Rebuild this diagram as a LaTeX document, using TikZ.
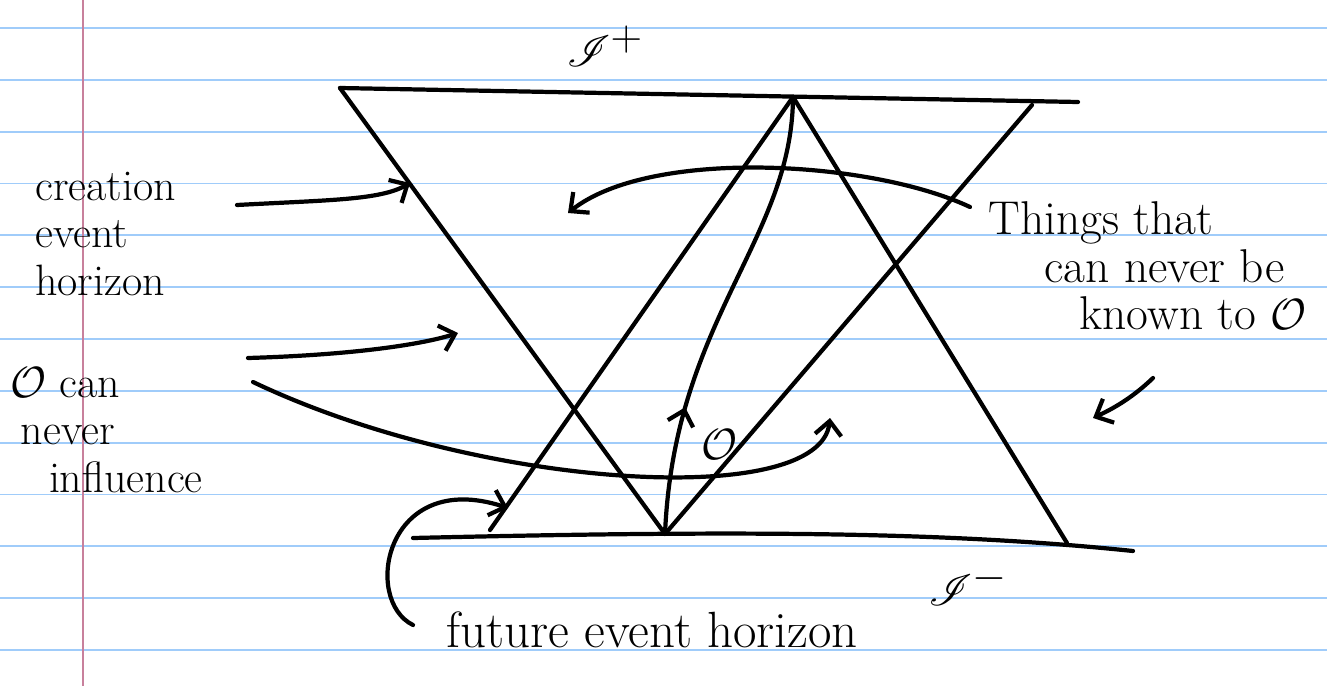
\documentclass[tikz,border=0pt]{standalone}
\usepackage{mathrsfs}
\usetikzlibrary{arrows.meta,decorations.markings}
\definecolor{ruleblue}{RGB}{160,204,250}
\definecolor{marginred}{RGB}{200,128,156}

\begin{document}
\begin{tikzpicture}[x=0.02cm, y=-0.02cm,
  ink/.style={line width=2.4pt, line cap=round, line join=round},
  barb/.style={ink, -{Straight Barb[length=8pt, width=15pt]}},
  hand/.style={font=\fontsize{25}{27}\selectfont, inner sep=0pt, align=left},
  bighand/.style={hand, font=\fontsize{27}{27}\selectfont}]
\useasboundingbox (0,0) rectangle (1327,686);
\fill[white] (0,0) rectangle (1327,686);
% ruled paper
\foreach \k in {0,...,12}
  \draw[ruleblue, line width=1.1pt] (0,{28+51.83*\k}) -- (1327,{28+51.83*\k});
\draw[marginred, line width=1.1pt] (83,0) -- (83,686);

% corners of the diagram
\coordinate (scriL) at (340,88);
\coordinate (scriR) at (1078,102);
\coordinate (apex) at (793,97);
\coordinate (vR) at (1032,105);
\coordinate (obs) at (665,534);
\coordinate (uL) at (490,530);
\coordinate (uR) at (1067,543);
\coordinate (iminusL) at (413,538);
\coordinate (iminusR) at (1133,551);

\draw[ink] (scriL) -- (scriR);
\draw[ink] (iminusL) .. controls (750,530) and (950,532) .. (iminusR);
\draw[ink] (scriL) -- (obs) -- (vR);
\draw[ink] (uL) -- (apex) -- (uR);
\draw[ink, postaction={decorate}, decoration={markings,
    mark=at position 0.28 with {\arrow{Straight Barb[length=8pt, width=15pt]}}}]
  (obs) .. controls (674,320) and (792,240) .. (apex);

% labels
\node[font=\fontsize{34}{36}\selectfont] (scriplus) at (605,46) {$\mathscr{I}^{+}$};
\node[font=\fontsize{34}{36}\selectfont] (scriminus) at (968,585) {$\mathscr{I}^{-}$};
\node[hand] (observer) at (719,445) {$\mathcal{O}$};
\node[hand, anchor=west] (creation) at (35,234) {creation\\event\\horizon};
\node[hand, anchor=west] (influence) at (10,430)
  {$\mathcal{O}$ can\\\hspace*{6pt}never\\\hspace*{22pt}influence};
\node[bighand, anchor=west] (things) at (988,266)
  {Things that\\\hspace*{32pt}can never be\\\hspace*{52pt}known to $\mathcal{O}$};
\node[bighand, font=\fontsize{29}{27}\selectfont] (future) at (652,630) {future event horizon};

% pointers
\coordinate (creaS) at (237,205);
\coordinate (creaE) at (410,183);
\coordinate (inflS) at (248,358);
\coordinate (inflE) at (458,333);
\coordinate (longS) at (253,382);
\coordinate (longE) at (830,418);
\coordinate (thingS) at (970,207);
\coordinate (thingE) at (568,213);
\coordinate (sideS) at (1153,378);
\coordinate (sideE) at (1093,418);
\coordinate (futS) at (413,625);
\coordinate (futE) at (508,508);

\draw[barb] (creaS) .. controls (330,200) and (380,200) .. (creaE);
\draw[barb] (inflS) .. controls (350,355) and (420,345) .. (inflE);
\draw[barb] (longS) .. controls (480,490) and (820,510) .. (longE);
\draw[barb] (thingS) .. controls (870,160) and (650,148) .. (thingE);
\draw[barb] (sideS) .. controls (1130,400) and (1110,410) .. (sideE);
\draw[barb] (futS) .. controls (362,600) and (385,468) .. (futE);
\end{tikzpicture}
\end{document}
